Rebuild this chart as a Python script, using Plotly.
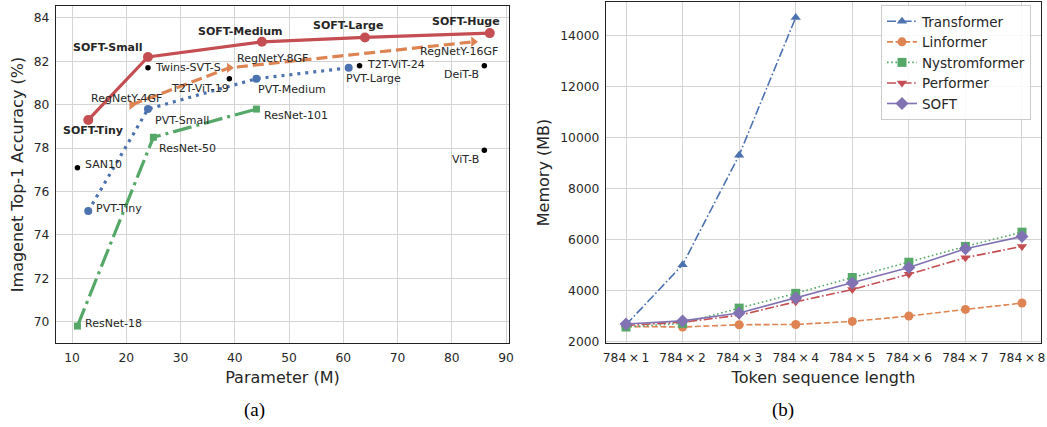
import plotly.graph_objects as go

# ---------------- data: (a) accuracy vs parameters ----------------
soft_names = ["SOFT-Tiny", "SOFT-Small", "SOFT-Medium", "SOFT-Large", "SOFT-Huge"]
soft_params = [13, 24, 45, 64, 87]
soft_acc = [79.3, 82.2, 82.9, 83.1, 83.3]

regnet_names = ["RegNetY-4GF", "RegNetY-8GF", "RegNetY-16GF"]
regnet_params = [21, 39, 84]
regnet_acc = [80.0, 81.7, 82.9]

pvt_names = ["PVT-Tiny", "PVT-Small", "PVT-Medium", "PVT-Large"]
pvt_params = [13, 24, 44, 61]
pvt_acc = [75.1, 79.8, 81.2, 81.7]

resnet_names = ["ResNet-18", "ResNet-50", "ResNet-101"]
resnet_params = [11, 25, 44]
resnet_acc = [69.8, 78.5, 79.8]

other_names = ["SAN10", "Twins-SVT-S", "T2T-ViT-19", "T2T-ViT-24", "DeiT-B", "ViT-B"]
other_params = [11, 24, 39, 63, 86, 86]
other_acc = [77.1, 81.7, 81.2, 81.8, 81.8, 77.9]

x_ticks_a = [10, 20, 30, 40, 50, 60, 70, 80, 90]
y_ticks_a = [70, 72, 74, 76, 78, 80, 82, 84]

# ---------------- data: (b) memory vs sequence length ----------------
seq_labels = ["784\u2009×\u20091", "784\u2009×\u20092", "784\u2009×\u20093", "784\u2009×\u20094",
              "784\u2009×\u20095", "784\u2009×\u20096", "784\u2009×\u20097", "784\u2009×\u20098"]
transformer_mem = [2650, 5000, 9300, 14700]
linformer_mem = [2580, 2560, 2650, 2660, 2780, 2990, 3250, 3500]
nystrom_mem = [2560, 2700, 3300, 3880, 4500, 5100, 5720, 6280]
performer_mem = [2620, 2750, 3020, 3550, 4030, 4630, 5280, 5720]
soft_mem = [2680, 2800, 3110, 3700, 4290, 4890, 5630, 6110]
y_ticks_b = [2000, 4000, 6000, 8000, 10000, 12000, 14000]

# ---------------- styles ----------------
BLUE, ORANGE, GREEN, RED, PURPLE = "#4C72B0", "#DD8452", "#55A868", "#C44E52", "#8172B3"
TXT = "#262626"
GRID = "#d4d4d4"
SPINE = "#222222"
FONT = "DejaVu Sans"

fig = go.Figure()

# (a) traces
fig.add_trace(go.Scatter(x=resnet_params, y=resnet_acc, mode="lines+markers",
                         line=dict(color=GREEN, width=3.2, dash="19px,5px,3px,5px"),
                         marker=dict(symbol="square", size=7, color=GREEN),
                         xaxis="x", yaxis="y", showlegend=False))
fig.add_trace(go.Scatter(x=pvt_params, y=pvt_acc, mode="lines+markers",
                         line=dict(color=BLUE, width=3.2, dash="3px,5px"),
                         marker=dict(symbol="circle", size=8, color=BLUE),
                         xaxis="x", yaxis="y", showlegend=False))
fig.add_trace(go.Scatter(x=regnet_params, y=regnet_acc, mode="lines+markers",
                         line=dict(color=ORANGE, width=3.2, dash="11px,5px"),
                         marker=dict(symbol="triangle-right", size=9, color=ORANGE),
                         xaxis="x", yaxis="y", showlegend=False))
fig.add_trace(go.Scatter(x=soft_params, y=soft_acc, mode="lines+markers",
                         line=dict(color=RED, width=3.2),
                         marker=dict(symbol="circle", size=10, color=RED),
                         xaxis="x", yaxis="y", showlegend=False))
fig.add_trace(go.Scatter(x=other_params, y=other_acc, mode="markers",
                         marker=dict(symbol="circle", size=5.5, color="black"),
                         xaxis="x", yaxis="y", showlegend=False))

# (b) traces
fig.add_trace(go.Scatter(x=seq_labels[:len(transformer_mem)], y=transformer_mem, name="Transformer",
                         mode="lines+markers",
                         line=dict(color=BLUE, width=1.6, dash="9px,2.5px,1.6px,2.5px"),
                         marker=dict(symbol="triangle-up", size=9, color=BLUE),
                         xaxis="x2", yaxis="y2"))
fig.add_trace(go.Scatter(x=seq_labels, y=linformer_mem, name="Linformer", mode="lines+markers",
                         line=dict(color=ORANGE, width=1.6, dash="6px,2.6px"),
                         marker=dict(symbol="circle", size=9, color=ORANGE),
                         xaxis="x2", yaxis="y2"))
fig.add_trace(go.Scatter(x=seq_labels, y=nystrom_mem, name="Nystromformer", mode="lines+markers",
                         line=dict(color=GREEN, width=1.6, dash="1.6px,2.6px"),
                         marker=dict(symbol="square", size=9, color=GREEN),
                         xaxis="x2", yaxis="y2"))
fig.add_trace(go.Scatter(x=seq_labels, y=performer_mem, name="Performer", mode="lines+markers",
                         line=dict(color=RED, width=1.6, dash="9px,2.5px,1.6px,2.5px"),
                         marker=dict(symbol="triangle-down", size=9, color=RED),
                         xaxis="x2", yaxis="y2"))
fig.add_trace(go.Scatter(x=seq_labels, y=soft_mem, name="SOFT", mode="lines+markers",
                         line=dict(color=PURPLE, width=1.6),
                         marker=dict(symbol="diamond", size=10, color=PURPLE),
                         xaxis="x2", yaxis="y2"))

# ---------------- point labels for (a) ----------------
labels = []
soft_offsets = [("center", 5, -11), ("right", -3, 9), ("center", -21, 10),
                ("center", -17, 12), ("center", -24, 12)]
for n, x, y, o in zip(soft_names, soft_params, soft_acc, soft_offsets):
    labels.append((n, x, y, o[0], o[1], o[2], True))
regnet_offsets = [("center", -5, 6), ("left", 6, 9), ("center", -14, -10)]
for n, x, y, o in zip(regnet_names, regnet_params, regnet_acc, regnet_offsets):
    labels.append((n, x, y, o[0], o[1], o[2], False))
pvt_offsets = [("left", 6, 3), ("left", 5, -11), ("left", 0, -11), ("left", -5, -11)]
for n, x, y, o in zip(pvt_names, pvt_params, pvt_acc, pvt_offsets):
    labels.append((n, x, y, o[0], o[1], o[2], False))
resnet_offsets = [("left", 6, 3), ("left", 4, -11), ("left", 6, -6)]
for n, x, y, o in zip(resnet_names, resnet_params, resnet_acc, resnet_offsets):
    labels.append((n, x, y, o[0], o[1], o[2], False))
other_offsets = [("left", 6, 3), ("left", 5, 0), ("right", 2, -10),
                 ("left", 5, 1), ("right", -3, -9), ("right", -3, -9)]
for n, x, y, o in zip(other_names, other_params, other_acc, other_offsets):
    labels.append((n, x, y, o[0], o[1], o[2], False))

annotations = []
for text, x, y, xa, xs, ys, bold in labels:
    annotations.append(dict(
        x=x, y=y, xref="x", yref="y", text=f"<b>{text}</b>" if bold else text,
        showarrow=False, xanchor=xa, yanchor="middle", xshift=xs, yshift=ys,
        font=dict(family=FONT, size=11, color=TXT)))

# captions
annotations.append(dict(x=254.5 / 1047, y=1 - 410 / 427, xref="paper", yref="paper", text="(a)",
                        showarrow=False, xanchor="center", yanchor="middle",
                        font=dict(family="Liberation Serif", size=19, color="black")))
annotations.append(dict(x=783 / 1047, y=1 - 410 / 427, xref="paper", yref="paper", text="(b)",
                        showarrow=False, xanchor="center", yanchor="middle",
                        font=dict(family="Liberation Serif", size=19, color="black")))

axis_common = dict(showline=True, linecolor=SPINE, linewidth=1.3, mirror=True,
                   showgrid=True, gridcolor=GRID, gridwidth=1, zeroline=False,
                   automargin=False,
                   ticks="outside", ticklen=3, tickcolor="rgba(0,0,0,0)",
                   tickfont=dict(family=FONT, size=12.3, color=TXT))

fig.update_layout(
    width=1047, height=427,
    margin=dict(l=0, r=0, t=0, b=0),
    paper_bgcolor="white", plot_bgcolor="white",
    font=dict(family=FONT, color=TXT),
    xaxis=dict(domain=[56 / 1047, 509 / 1047], range=[7.05, 90.55],
               tickvals=x_ticks_a, anchor="y",
               title=dict(text="Parameter (M)", font=dict(family=FONT, size=16, color=TXT), standoff=7),
               **axis_common),
    yaxis=dict(domain=[1 - 343 / 427, 1 - 6 / 427], range=[69.02, 84.55],
               tickvals=y_ticks_a, anchor="x",
               title=dict(text="Imagenet Top-1 Accuracy (%)", font=dict(family=FONT, size=16, color=TXT), standoff=6),
               **axis_common),
    xaxis2=dict(domain=[606 / 1047, 1041 / 1047], range=[-0.354, 7.336], type="category",
                anchor="y2",
                title=dict(text="Token sequence length", font=dict(family=FONT, size=16, color=TXT), standoff=7),
                **axis_common),
    yaxis2=dict(domain=[1 - 343 / 427, 1 - 2 / 427], range=[1933, 15306],
                tickvals=y_ticks_b, tickformat="d", anchor="x2",
                title=dict(text="Memory (MB)", font=dict(family=FONT, size=16, color=TXT), standoff=6),
                **axis_common),
    legend=dict(x=881 / 1047, y=1 - 5 / 427, xanchor="left", yanchor="top",
                bgcolor="rgba(255,255,255,0.85)", bordercolor="#cccccc", borderwidth=1,
                font=dict(family=FONT, size=13.5, color=TXT), tracegroupgap=0),
    annotations=annotations,
)

fig.write_html("out.html",
               config={"displayModeBar": False},
               post_script="document.body.style.margin='0px';document.body.style.overflow='hidden';")
